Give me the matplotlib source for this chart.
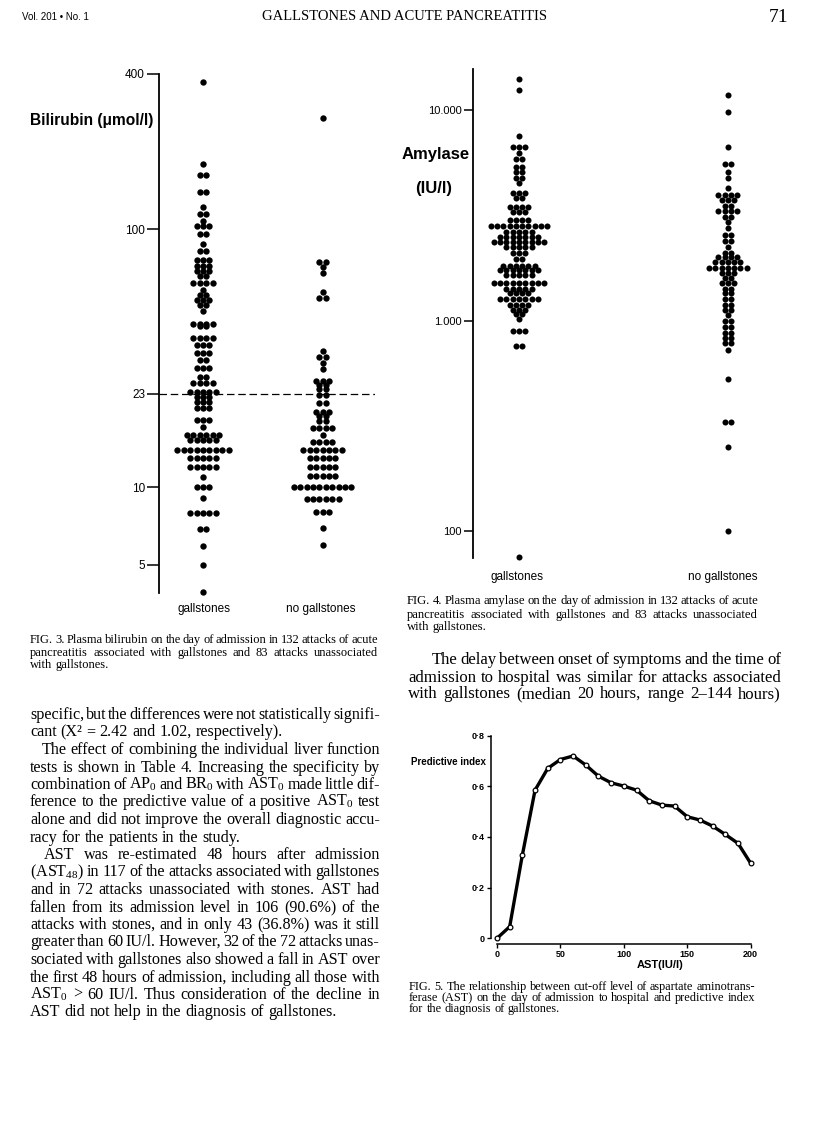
import numpy as np
import matplotlib
matplotlib.use('Agg')
import matplotlib.pyplot as plt
from matplotlib.ticker import FixedLocator, FixedFormatter, NullLocator

W, H = 816, 1126
SANS = 'Liberation Sans'
SERIF = 'Liberation Serif'
plt.rcParams['font.family'] = [SANS, 'DejaVu Sans']
plt.rcParams['mathtext.fontset'] = 'custom'
plt.rcParams['mathtext.rm'] = SERIF
plt.rcParams['mathtext.it'] = SERIF + ':italic'
plt.rcParams['mathtext.bf'] = SERIF + ':bold'
plt.rcParams['mathtext.default'] = 'rm'

# ---------------- data ----------------
group_labels = ['gallstones', 'no gallstones']

# Fig. 3 bilirubin (umol/l)
bili_ticks = [5, 10, 23, 100, 400]
bili_tick_labels = ['5', '10', '23', '100', '400']
bili_threshold = 23
bili_gall_levels = [372, 179, 163, 139, 122, 115, 108, 103, 96, 88,
                    82, 76, 72, 69, 66, 62, 58, 55.5, 53, 51,
                    48, 43, 42, 37.8, 35.5, 33.1, 31.1, 28.9, 26.7, 25.3,
                    23.4, 22.3, 21.3, 20.2, 18.2, 17.1, 15.9, 15.2, 13.9, 12.9,
                    12.0, 10.9, 10.0, 9.07, 7.93, 6.88, 5.91, 4.99, 3.92]
bili_gall_counts = [1, 1, 2, 2, 1, 2, 1, 3, 2, 1,
                    2, 3, 3, 3, 2, 4, 1, 2, 3, 2,
                    1, 4, 2, 4, 3, 3, 2, 3, 2, 4,
                    5, 3, 3, 3, 3, 1, 6, 5, 9, 5,
                    5, 1, 3, 1, 5, 2, 1, 1, 1]
bili_nogall_levels = [271, 74.6, 71.4, 67.9, 57.1, 53.9, 33.7, 31.8, 30.4, 28.6,
                      25.8, 24.8, 23.9, 22.7, 21.2, 19.6, 18.8, 18.1, 16.9, 15.9,
                      15.0, 13.9, 12.9, 12.0, 11.0, 10.0, 8.98, 8.02, 6.94, 5.94]
bili_nogall_counts = [1, 2, 1, 1, 1, 2, 1, 2, 1, 1,
                      3, 2, 2, 2, 2, 3, 2, 2, 4, 1,
                      4, 7, 5, 5, 5, 10, 6, 3, 1, 1]

# Fig. 4 amylase (IU/l)
amy_ticks = [100, 1000, 10000]
amy_tick_labels = ['100', '1.000', '10.000']
amy_gall_levels = [14000, 12440, 7510, 6650, 6230, 5830, 5340, 5100, 4740, 4490,
                   4020, 3805, 3470, 3290, 3000, 2820, 2640, 2500, 2370, 2240,
                   2100, 1955, 1820, 1740, 1645, 1510, 1420, 1345, 1260, 1185,
                   1122, 1074, 1014, 895, 757, 75.5]
amy_gall_counts = [1, 1, 1, 3, 1, 2, 2, 2, 2, 1,
                   3, 2, 4, 3, 4, 10, 5, 7, 9, 5,
                   3, 2, 6, 7, 5, 9, 5, 4, 7, 4,
                   3, 2, 1, 3, 2, 1]
amy_nogall_levels = [11790, 9750, 6650, 5520, 5100, 4740, 4250, 3950, 3730, 3510,
                     3320, 3115, 2945, 2740, 2550, 2385, 2240, 2100, 1995, 1900,
                     1770, 1675, 1585, 1510, 1420, 1345, 1260, 1185, 1122, 1062,
                     1000, 936, 876, 822, 779, 725, 525, 330, 251, 100]
amy_nogall_counts = [1, 1, 1, 2, 1, 1, 1, 4, 3, 2,
                     4, 2, 1, 1, 2, 2, 1, 2, 4, 5,
                     7, 3, 2, 3, 2, 2, 2, 2, 2, 1,
                     2, 2, 2, 2, 2, 1, 1, 2, 1, 1]

# Fig. 5 predictive index vs AST cut-off
ast_cutoff = [0, 10, 20, 30, 40, 50, 60, 70, 80, 90, 100,
              110, 120, 130, 140, 150, 160, 170, 180, 190, 200]
pred_index = [0.00, 0.046, 0.329, 0.585, 0.671, 0.706, 0.720, 0.684, 0.640, 0.614, 0.601,
              0.585, 0.543, 0.526, 0.522, 0.480, 0.467, 0.443, 0.410, 0.375, 0.296]
pi_ticks = [0, 0.2, 0.4, 0.6, 0.8]
pi_tick_labels = ['0', '0\u00b72', '0\u00b74', '0\u00b76', '0\u00b78']
ast_ticks = [0, 50, 100, 150, 200]

# ---------------- figure ----------------
fig = plt.figure(figsize=(W / 100, H / 100), dpi=100)
fig.patch.set_facecolor('white')
renderer = fig.canvas.get_renderer()


def fxy(x, y):
    return x / W, 1 - y / H


def add_axes_px(x0, y0, x1, y1):
    return fig.add_axes([x0 / W, 1 - y1 / H, (x1 - x0) / W, (y1 - y0) / H])


def swarm(ax, levels, counts, center, spacing_px, ax_width_px, size):
    xs, ys = [], []
    dx = spacing_px / ax_width_px
    for v, n in zip(levels, counts):
        offs = (np.arange(n) - (n - 1) / 2.0) * dx
        xs.extend(center + offs)
        ys.extend([v] * n)
    ax.scatter(xs, ys, s=size, color='black', linewidths=0, clip_on=False, zorder=3)


def dotplot_axes(x0, y0, x1, y1, ylim, ticks, labels, ticklen, fs):
    ax = add_axes_px(x0, y0, x1, y1)
    ax.set_yscale('log')
    ax.set_ylim(*ylim)
    ax.set_xlim(0, 1)
    for s in ['top', 'right', 'bottom']:
        ax.spines[s].set_visible(False)
    ax.spines['left'].set_linewidth(1.3)
    ax.yaxis.set_major_locator(FixedLocator(ticks))
    ax.yaxis.set_major_formatter(FixedFormatter(labels))
    ax.yaxis.set_minor_locator(NullLocator())
    ax.set_xticks([])
    ax.tick_params(axis='y', direction='out', length=ticklen, width=1.1, pad=1.5, labelsize=fs)
    ax.patch.set_visible(False)
    return ax


# ---- Fig. 3 bilirubin ----
ax3 = dotplot_axes(159, 74, 375, 593, (3.88, 400), bili_ticks, bili_tick_labels, 8.6, 8.5)
swarm(ax3, bili_gall_levels, bili_gall_counts, 0.204, 6.4, 216, 21)
swarm(ax3, bili_nogall_levels, bili_nogall_counts, 0.757, 6.4, 216, 21)
ax3.axhline(bili_threshold, color='black', lw=0.9, ls=(0, (6, 3)), zorder=2)
fig.text(*fxy(30, 120), 'Bilirubin (\u03bcmol/l)', fontsize=11.2, fontweight='bold',
         ha='left', va='center')
fig.text(*fxy(204, 609), group_labels[0], fontsize=8.5, ha='center', va='center')
fig.text(*fxy(321, 609), group_labels[1], fontsize=8.5, ha='center', va='center')

# ---- Fig. 4 amylase ----
ax4 = dotplot_axes(473, 69, 790, 558, (74.5, 15670), amy_ticks, amy_tick_labels, 6.7, 8)
swarm(ax4, amy_gall_levels, amy_gall_counts, 0.145, 6.3, 317, 19)
swarm(ax4, amy_nogall_levels, amy_nogall_counts, 0.804, 6.3, 317, 19)
fig.text(*fxy(436, 155), 'Amylase', fontsize=12, fontweight='bold', ha='center', va='center')
fig.text(*fxy(434, 188), '(IU/l)', fontsize=12, fontweight='bold', ha='center', va='center')
fig.text(*fxy(517, 577), group_labels[0], fontsize=8.5, ha='center', va='center')
fig.text(*fxy(723, 577), group_labels[1], fontsize=8.5, ha='center', va='center')

# ---- Fig. 5 predictive index ----
ax5 = add_axes_px(497, 735.7, 750.7, 938.3)
ax5.set_xlim(0, 200)
ax5.set_ylim(0, 0.8)
for s in ['top', 'right']:
    ax5.spines[s].set_visible(False)
ax5.spines['left'].set_position(('outward', 6 * 0.72))
ax5.spines['bottom'].set_position(('outward', 5.7 * 0.72))
ax5.spines['left'].set_bounds(0, 0.8)
ax5.spines['bottom'].set_bounds(0, 200)
ax5.spines['left'].set_linewidth(1.1)
ax5.spines['bottom'].set_linewidth(1.1)
ax5.patch.set_visible(False)
ax5.plot(ast_cutoff, pred_index, color='black', lw=2.4, marker='o', ms=3.4,
         mfc='white', mec='black', mew=0.9, clip_on=False, zorder=3)
ax5.yaxis.set_major_locator(FixedLocator(pi_ticks))
ax5.yaxis.set_major_formatter(FixedFormatter(pi_tick_labels))
ax5.xaxis.set_major_locator(FixedLocator(ast_ticks))
ax5.xaxis.set_major_formatter(FixedFormatter([str(t) for t in ast_ticks]))
ax5.tick_params(direction='out', length=3, width=1, pad=1.5, labelsize=6.5)
for lbl in ax5.get_xticklabels() + ax5.get_yticklabels():
    lbl.set_fontweight('bold')
fig.text(*fxy(486, 762), 'Predictive index', fontsize=7, fontweight='bold', ha='right', va='center')
fig.text(*fxy(660, 965), 'AST(IU/l)', fontsize=8, fontweight='bold', ha='center', va='center')

# ---------------- page text ----------------
fig.text(*fxy(22, 17), 'Vol. 201 \u2022 No. 1', fontsize=7, family=SANS, ha='left', va='center')
fig.text(*fxy(405, 17), 'GALLSTONES AND ACUTE PANCREATITIS', fontsize=10.5, family=SERIF,
         ha='center', va='center')
fig.text(*fxy(779, 17), '71', fontsize=14, family=SERIF, ha='center', va='center')


def measure_words(words, fs, family):
    ws = []
    for w in words:
        t = fig.text(0, 0, w, fontsize=fs, family=family)
        ws.append(t.get_window_extent(renderer).width)
        t.remove()
    return ws


def fit_size(lines, x0, x1, fs, family):
    ratios = []
    nat_space = 0.25 * fs * 100 / 72
    for line, just, indent in lines:
        if not just:
            continue
        words = line.split(' ')
        natural = sum(measure_words(words, fs, family)) + nat_space * (len(words) - 1)
        ratios.append((x1 - x0 - indent) / natural)
    return round(fs * float(np.median(ratios)), 1)


def text_block(lines, x0, x1, base0, dy, fs_guess, family=SERIF):
    fs = fit_size(lines, x0, x1, fs_guess, family)
    nat_space = 0.25 * fs * 100 / 72
    for i, (line, just, indent) in enumerate(lines):
        y = float(round(base0 + i * dy))
        words = line.split(' ')
        texts = [fig.text(0, 0, w, fontsize=fs, family=family, ha='left', va='baseline')
                 for w in words]
        widths = [t.get_window_extent(renderer).width for t in texts]
        start = x0 + indent
        if just and len(words) > 1:
            space = (x1 - start - sum(widths)) / (len(words) - 1)
            space = max(space, 0.45 * nat_space)
        else:
            space = nat_space
        x = start
        for t, w in zip(texts, widths):
            t.set_position(fxy(x, y))
            x += w + space


caption3 = [
    ('FIG. 3. Plasma bilirubin on the day of admission in 132 attacks of acute', True, 0),
    ('pancreatitis associated with gallstones and 83 attacks unassociated', True, 0),
    ('with gallstones.', False, 0),
]
caption4 = [
    ('FIG. 4. Plasma amylase on the day of admission in 132 attacks of acute', True, 0),
    ('pancreatitis associated with gallstones and 83 attacks unassociated', True, 0),
    ('with gallstones.', False, 0),
]
caption5 = [
    ('FIG. 5. The relationship between cut-off level of aspartate aminotrans-', True, 0),
    ('ferase (AST) on the day of admission to hospital and predictive index', True, 0),
    ('for the diagnosis of gallstones.', False, 0),
]
body_left = [
    ('specific, but the differences were not statistically signifi-', True, 0),
    ('cant (X\u00b2 = 2.42 and 1.02, respectively).', False, 0),
    ('The effect of combining the individual liver function', True, 12),
    ('tests is shown in Table 4. Increasing the specificity by', True, 0),
    ('combination of AP$_0$ and BR$_0$ with AST$_0$ made little dif-', True, 0),
    ('ference to the predictive value of a positive AST$_0$ test', True, 0),
    ('alone and did not improve the overall diagnostic accu-', True, 0),
    ('racy for the patients in the study.', False, 0),
    ('AST was re-estimated 48 hours after admission', True, 14),
    ('(AST$_{48}$) in 117 of the attacks associated with gallstones', True, 0),
    ('and in 72 attacks unassociated with stones. AST had', True, 0),
    ('fallen from its admission level in 106 (90.6%) of the', True, 0),
    ('attacks with stones, and in only 43 (36.8%) was it still', True, 0),
    ('greater than 60 IU/l. However, 32 of the 72 attacks unas-', True, 0),
    ('sociated with gallstones also showed a fall in AST over', True, 0),
    ('the first 48 hours of admission, including all those with', True, 0),
    ('AST$_0$ > 60 IU/l. Thus consideration of the decline in', True, 0),
    ('AST did not help in the diagnosis of gallstones.', False, 0),
]
body_right = [
    ('The delay between onset of symptoms and the time of', True, 24),
    ('admission to hospital was similar for attacks associated', True, 0),
    ('with gallstones (median 20 hours, range 2\u2013144 hours)', True, 0),
]

text_block(caption3, 30, 378, 643, 12.5, 7.8)
text_block(caption4, 407, 758, 604.5, 13, 7.8)
text_block(caption5, 409, 755, 989.5, 11.5, 7.8)
text_block(body_left, 30, 380, 719, 17.5, 10)
text_block(body_right, 408, 781, 664.5, 17, 10)

fig.savefig('out.png', dpi=100, facecolor='white')
